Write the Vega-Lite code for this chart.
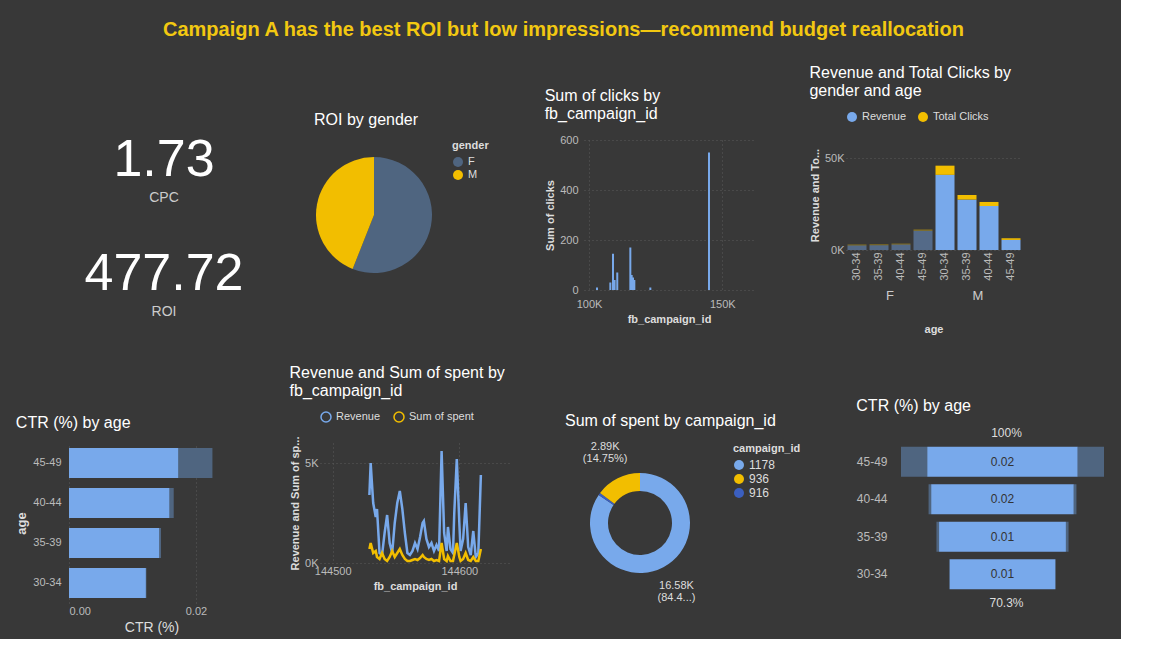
{
  "$schema": "https://vega.github.io/schema/vega-lite/v6.json",
  "background": "#383838",
  "padding": {"left": 15, "top": 20, "right": 10, "bottom": 5},
  "title": {"text": "Campaign A has the best ROI but low impressions—recommend budget reallocation", "color": "#F2C811", "fontSize": 20, "fontWeight": "bold", "anchor": "middle", "offset": 25},
  "vconcat": [
    {
      "hconcat": [
        {
          "width": 190, "height": 170,
          "data": {"values": [{"metric": "CPC", "value": "1.73"}, {"metric": "ROI", "value": "477.72"}]},
          "encoding": {
            "y": {"field": "metric", "type": "nominal", "scale": {"domain": ["CPC", "mid", "ROI"], "paddingOuter": 0}, "axis": null},
            "x": {"value": 95}
          },
          "layer": [
            {"mark": {"type": "text", "fontSize": 52, "color": "#ffffff", "dy": -8}, "encoding": {"text": {"field": "value"}}},
            {"mark": {"type": "text", "fontSize": 14, "color": "#cccccc", "dy": 30}, "encoding": {"text": {"field": "metric"}}}
          ]
        },
        {
          "title": "ROI by gender",
          "width": 120, "height": 150,
          "data": {"values": [{"gender": "F", "roi": 56}, {"gender": "M", "roi": 44}]},
          "mark": {"type": "arc", "outerRadius": 58},
          "encoding": {
            "theta": {"field": "roi", "type": "quantitative", "stack": true},
            "color": {"field": "gender", "type": "nominal", "scale": {"domain": ["F", "M"], "range": ["#4F6580", "#F2BE00"]}, "legend": {"symbolType": "circle", "titleFontWeight": "bold"}}
          }
        },
        {
          "title": {"text": ["Sum of clicks by", "fb_campaign_id"]},
          "width": 170, "height": 150,
          "data": {"values": [
            {"id": 103000, "clicks": 10}, {"id": 108000, "clicks": 30}, {"id": 109000, "clicks": 145},
            {"id": 109600, "clicks": 40}, {"id": 110600, "clicks": 70}, {"id": 115500, "clicks": 170},
            {"id": 116000, "clicks": 60}, {"id": 116500, "clicks": 50}, {"id": 117000, "clicks": 40},
            {"id": 123000, "clicks": 10}, {"id": 145000, "clicks": 550}
          ]},
          "mark": {"type": "bar", "width": 2, "color": "#78A9EB"},
          "encoding": {
            "x": {"field": "id", "type": "quantitative", "title": "fb_campaign_id", "scale": {"domain": [100000, 160000]}, "axis": {"values": [100000, 150000], "labelExpr": "datum.value/1000 + 'K'", "labelPadding": 8}},
            "y": {"field": "clicks", "type": "quantitative", "title": "Sum of clicks", "scale": {"domain": [0, 600]}, "axis": {"tickCount": 3, "labelPadding": 6}}
          }
        },
        {
          "title": {"text": ["Revenue and Total Clicks by", "gender and age"]},
          "data": {"values": [
            {"gender": "F", "age": "30-34", "measure": "Revenue", "v": 2500},
            {"gender": "F", "age": "35-39", "measure": "Revenue", "v": 2600},
            {"gender": "F", "age": "40-44", "measure": "Revenue", "v": 3000},
            {"gender": "F", "age": "45-49", "measure": "Revenue", "v": 10500},
            {"gender": "F", "age": "30-34", "measure": "Total Clicks", "v": 500},
            {"gender": "F", "age": "35-39", "measure": "Total Clicks", "v": 500},
            {"gender": "F", "age": "40-44", "measure": "Total Clicks", "v": 500},
            {"gender": "F", "age": "45-49", "measure": "Total Clicks", "v": 700},
            {"gender": "M", "age": "30-34", "measure": "Revenue", "v": 41000},
            {"gender": "M", "age": "35-39", "measure": "Revenue", "v": 27500},
            {"gender": "M", "age": "40-44", "measure": "Revenue", "v": 24000},
            {"gender": "M", "age": "45-49", "measure": "Revenue", "v": 5500},
            {"gender": "M", "age": "30-34", "measure": "Total Clicks", "v": 5000},
            {"gender": "M", "age": "35-39", "measure": "Total Clicks", "v": 2500},
            {"gender": "M", "age": "40-44", "measure": "Total Clicks", "v": 2200},
            {"gender": "M", "age": "45-49", "measure": "Total Clicks", "v": 900}
          ]},
          "facet": {"column": {"field": "gender", "type": "nominal", "title": "age", "header": {"labelOrient": "bottom", "titleOrient": "bottom", "labelColor": "#cccccc", "labelFontSize": 13, "titleColor": "#dddddd", "titleFontWeight": "bold", "titleFontSize": 11}}},
          "spacing": 0,
          "spec": {
            "width": {"step": 22}, "height": 110,
            "mark": {"type": "bar", "width": 19},
            "encoding": {
              "x": {"field": "age", "type": "nominal", "title": null, "axis": {"labelAngle": -90}},
              "y": {"field": "v", "type": "quantitative", "title": "Revenue and To...", "scale": {"domain": [0, 60000]}, "axis": {"values": [0, 50000], "labelExpr": "datum.value/1000 + 'K'"}},
              "color": {"field": "measure", "type": "nominal", "scale": {"domain": ["Revenue", "Total Clicks"], "range": ["#78A9EB", "#F2BE00"]}, "legend": {"orient": "top", "direction": "horizontal", "title": null, "symbolType": "circle"}},
              "opacity": {"field": "gender", "type": "nominal", "scale": {"domain": ["F", "M"], "range": [0.45, 1]}, "legend": null},
              "order": {"field": "measure", "sort": "ascending"}
            }
          },
          "resolve": {"axis": {"y": "shared"}}
        }
      ],
      "spacing": 55,
      "resolve": {"scale": {"color": "independent", "opacity": "independent"}, "legend": {"color": "independent"}}
    },
    {
      "hconcat": [
        {
          "title": "CTR (%) by age",
          "width": 165, "height": 160,
          "data": {"values": [
            {"age": "45-49", "ctr": 0.0172, "total": 0.0226},
            {"age": "40-44", "ctr": 0.0158, "total": 0.0165},
            {"age": "35-39", "ctr": 0.0142, "total": 0.0145},
            {"age": "30-34", "ctr": 0.0121, "total": 0.0122}
          ]},
          "encoding": {"y": {"field": "age", "type": "nominal", "sort": "descending", "title": "age", "axis": {"titleFontSize": 13, "labelPadding": 8}}},
          "layer": [
            {"mark": {"type": "bar", "color": "#4F6580", "height": 30}, "encoding": {"x": {"field": "total", "type": "quantitative"}}},
            {"mark": {"type": "bar", "color": "#78A9EB", "height": 30}, "encoding": {"x": {"field": "ctr", "type": "quantitative", "title": "CTR (%)", "scale": {"domain": [0, 0.025]}, "axis": {"values": [0, 0.02], "format": ".2f", "titleFontSize": 14, "titleFontWeight": "normal"}}}}
          ]
        },
        {
          "title": {"text": ["Revenue and Sum of spent by", "fb_campaign_id"]},
          "width": 190, "height": 120,
          "data": {"values": [
            {"id": 144529, "Revenue": 3400, "Sum of spent": 700}, {"id": 144530, "Revenue": 5000, "Sum of spent": 1000},
            {"id": 144532, "Revenue": 3000, "Sum of spent": 500}, {"id": 144534, "Revenue": 2300, "Sum of spent": 600},
            {"id": 144535, "Revenue": 2700, "Sum of spent": 300}, {"id": 144537, "Revenue": 500, "Sum of spent": 200},
            {"id": 144539, "Revenue": 400, "Sum of spent": 500}, {"id": 144541, "Revenue": 1500, "Sum of spent": 200},
            {"id": 144543, "Revenue": 2400, "Sum of spent": 100}, {"id": 144545, "Revenue": 1000, "Sum of spent": 300},
            {"id": 144547, "Revenue": 500, "Sum of spent": 600}, {"id": 144549, "Revenue": 2000, "Sum of spent": 300},
            {"id": 144551, "Revenue": 3000, "Sum of spent": 500}, {"id": 144553, "Revenue": 3600, "Sum of spent": 700},
            {"id": 144555, "Revenue": 2700, "Sum of spent": 400}, {"id": 144557, "Revenue": 1500, "Sum of spent": 200},
            {"id": 144559, "Revenue": 500, "Sum of spent": 100}, {"id": 144561, "Revenue": 400, "Sum of spent": 100},
            {"id": 144563, "Revenue": 600, "Sum of spent": 150}, {"id": 144565, "Revenue": 1000, "Sum of spent": 200},
            {"id": 144567, "Revenue": 700, "Sum of spent": 150}, {"id": 144569, "Revenue": 1300, "Sum of spent": 250},
            {"id": 144571, "Revenue": 2000, "Sum of spent": 400}, {"id": 144572, "Revenue": 2100, "Sum of spent": 300},
            {"id": 144574, "Revenue": 1200, "Sum of spent": 200}, {"id": 144576, "Revenue": 800, "Sum of spent": 150},
            {"id": 144578, "Revenue": 1000, "Sum of spent": 200}, {"id": 144580, "Revenue": 600, "Sum of spent": 100},
            {"id": 144582, "Revenue": 900, "Sum of spent": 150}, {"id": 144584, "Revenue": 600, "Sum of spent": 100},
            {"id": 144586, "Revenue": 5600, "Sum of spent": 1000}, {"id": 144588, "Revenue": 1500, "Sum of spent": 200},
            {"id": 144590, "Revenue": 600, "Sum of spent": 100}, {"id": 144591, "Revenue": 1800, "Sum of spent": 350},
            {"id": 144593, "Revenue": 700, "Sum of spent": 100}, {"id": 144595, "Revenue": 500, "Sum of spent": 100},
            {"id": 144596, "Revenue": 2500, "Sum of spent": 400}, {"id": 144598, "Revenue": 5200, "Sum of spent": 1000},
            {"id": 144600, "Revenue": 2000, "Sum of spent": 300}, {"id": 144601, "Revenue": 600, "Sum of spent": 100},
            {"id": 144603, "Revenue": 1200, "Sum of spent": 200}, {"id": 144605, "Revenue": 3000, "Sum of spent": 500},
            {"id": 144607, "Revenue": 800, "Sum of spent": 150}, {"id": 144609, "Revenue": 400, "Sum of spent": 100},
            {"id": 144611, "Revenue": 1600, "Sum of spent": 300}, {"id": 144613, "Revenue": 300, "Sum of spent": 100},
            {"id": 144615, "Revenue": 500, "Sum of spent": 100}, {"id": 144617, "Revenue": 4400, "Sum of spent": 700}
          ]},
          "transform": [{"fold": ["Revenue", "Sum of spent"], "as": ["measure", "value"]}],
          "mark": {"type": "line", "strokeWidth": 2.5},
          "encoding": {
            "x": {"field": "id", "type": "quantitative", "title": "fb_campaign_id", "scale": {"domain": [144490, 144640]}, "axis": {"values": [144500, 144600], "format": "d"}},
            "y": {"field": "value", "type": "quantitative", "title": "Revenue and Sum of sp...", "scale": {"domain": [0, 6000]}, "axis": {"values": [0, 5000], "labelExpr": "datum.value/1000 + 'K'"}},
            "color": {"field": "measure", "type": "nominal", "scale": {"domain": ["Revenue", "Sum of spent"], "range": ["#78A9EB", "#F2BE00"]}, "legend": {"orient": "top", "direction": "horizontal", "title": null, "symbolType": "circle"}}
          }
        },
        {
          "title": "Sum of spent by campaign_id",
          "width": 150, "height": 160,
          "data": {"values": [
            {"campaign_id": "1178", "spent": 16580, "rank": 1, "label": "16.58K", "pct": "(84.4...)"},
            {"campaign_id": "916", "spent": 150, "rank": 2, "label": "", "pct": ""},
            {"campaign_id": "936", "spent": 2890, "rank": 3, "label": "2.89K", "pct": "(14.75%)"}
          ]},
          "encoding": {
            "theta": {"field": "spent", "type": "quantitative", "stack": true},
            "color": {"field": "campaign_id", "type": "nominal", "scale": {"domain": ["1178", "936", "916"], "range": ["#78A9EB", "#F2BE00", "#3B5FC0"]}, "legend": {"symbolType": "circle", "titleFontWeight": "bold", "labelFontSize": 12}},
            "order": {"field": "rank", "sort": "ascending"}
          },
          "layer": [
            {"mark": {"type": "arc", "outerRadius": 50, "innerRadius": 32}},
            {"mark": {"type": "text", "radius": 78, "fontSize": 11, "dy": -6}, "encoding": {"text": {"field": "label"}, "color": {"value": "#dddddd"}}},
            {"mark": {"type": "text", "radius": 78, "fontSize": 11, "dy": 6}, "encoding": {"text": {"field": "pct"}, "color": {"value": "#dddddd"}}}
          ]
        },
        {
          "title": "CTR (%) by age",
          "width": 210, "height": 150,
          "data": {"values": [
            {"age": "45-49", "seg": 1, "part": "rest", "v": 0.0030},
            {"age": "45-49", "seg": 2, "part": "ctr", "v": 0.0172},
            {"age": "45-49", "seg": 3, "part": "rest", "v": 0.0030},
            {"age": "40-44", "seg": 1, "part": "rest", "v": 0.0003},
            {"age": "40-44", "seg": 2, "part": "ctr", "v": 0.0163},
            {"age": "40-44", "seg": 3, "part": "rest", "v": 0.0003},
            {"age": "35-39", "seg": 1, "part": "rest", "v": 0.0003},
            {"age": "35-39", "seg": 2, "part": "ctr", "v": 0.0145},
            {"age": "35-39", "seg": 3, "part": "rest", "v": 0.0003},
            {"age": "30-34", "seg": 1, "part": "rest", "v": 0},
            {"age": "30-34", "seg": 2, "part": "ctr", "v": 0.0121},
            {"age": "30-34", "seg": 3, "part": "rest", "v": 0}
          ]},
          "encoding": {"y": {"field": "age", "type": "nominal", "sort": "descending", "title": null, "axis": {"labelPadding": 14, "labelFontSize": 12}}},
          "layer": [
            {
              "mark": {"type": "bar", "height": 30},
              "encoding": {
                "x": {"field": "v", "type": "quantitative", "stack": "center", "scale": {"domain": [0, 0.0232]}, "axis": {"orient": "top", "title": "100%", "labels": false, "grid": false, "titleFontWeight": "normal", "titleFontSize": 12}},
                "color": {"field": "part", "type": "nominal", "scale": {"domain": ["ctr", "rest"], "range": ["#78A9EB", "#4F6580"]}, "legend": null},
                "order": {"field": "seg"}
              }
            },
            {
              "transform": [{"filter": "datum.seg == 2"}],
              "mark": {"type": "text", "fontSize": 12},
              "encoding": {
                "x": {"datum": 0.0116, "type": "quantitative", "axis": {"orient": "bottom", "title": "70.3%", "labels": false, "grid": false, "titleFontWeight": "normal", "titleFontSize": 12}},
                "text": {"field": "v", "format": ".2f"},
                "color": {"value": "#333333"}
              }
            }
          ],
          "resolve": {"axis": {"x": "independent"}}
        }
      ],
      "spacing": 55,
      "resolve": {"scale": {"color": "independent"}, "legend": {"color": "independent"}}
    }
  ],
  "spacing": 30,
  "resolve": {"scale": {"color": "independent", "opacity": "independent"}, "legend": {"color": "independent"}},
  "config": {
    "font": "Liberation Sans",
    "view": {"stroke": null},
    "title": {"anchor": "start", "color": "#ffffff", "fontSize": 16, "fontWeight": "normal", "offset": 12},
    "axis": {"labelColor": "#bbbbbb", "titleColor": "#dddddd", "gridColor": "#5a5a5a", "gridDash": [1, 3], "domain": false, "ticks": false, "labelFontSize": 11, "titleFontSize": 11},
    "legend": {"labelColor": "#dddddd", "titleColor": "#dddddd", "labelFontSize": 11}
  }
}
